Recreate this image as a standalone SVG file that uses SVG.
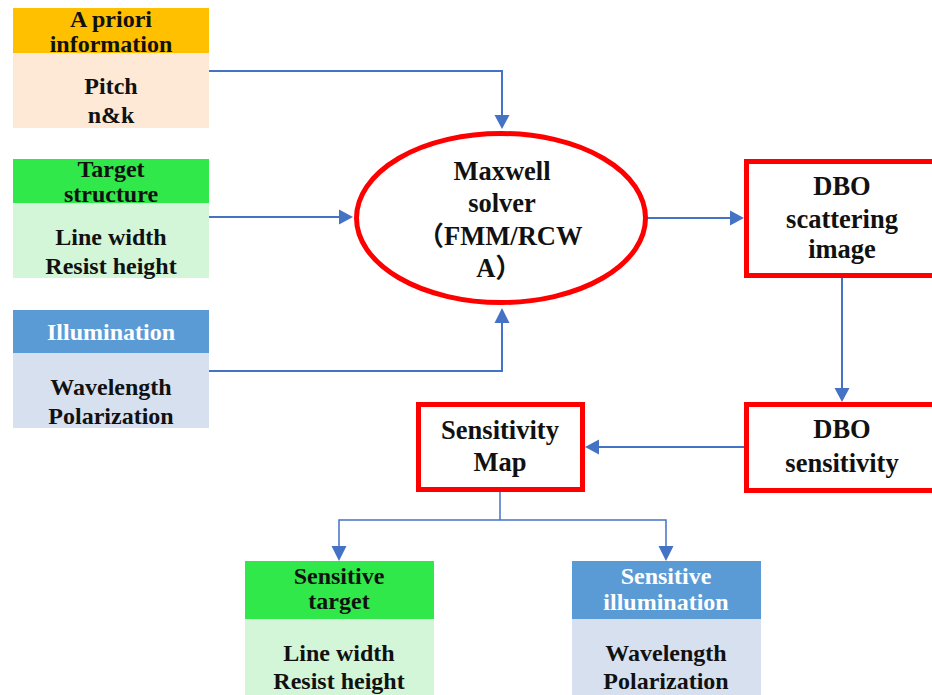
<svg xmlns="http://www.w3.org/2000/svg" width="932" height="695" viewBox="0 0 932 695">
  <defs>
    <style>
      text { font-family: "Liberation Serif", "Noto Sans CJK SC", serif; font-weight: bold; text-anchor: middle; fill: #111; }
      .t23 { font-size: 24px; }
      .t26 { font-size: 26.5px; }
      .white { fill: #ffffff; }
      .red { fill: #ffffff; stroke: #FF0000; stroke-width: 5; }
      .conn { fill: none; stroke: #4472C4; stroke-width: 2; }
      .conn-thin { fill: none; stroke: #4472C4; stroke-width: 1.5; }
      .head { fill: #4472C4; }
    </style>
  </defs>

  <rect width="932" height="695" fill="#ffffff"/>

  <!-- Connectors -->
  <g id="connectors">
    <path class="conn" d="M209,71 H502 V115" />
    <path class="head" d="M494.5,115 L509.5,115 L502,129 z"/>
    <path class="conn" d="M209,217 H339" />
    <path class="head" d="M339,209.5 L339,224.5 L353,217 z"/>
    <path class="conn" d="M209,371 H502 V323" />
    <path class="head" d="M494.5,323 L509.5,323 L502,308 z"/>
    <path class="conn" d="M647,218 H730" />
    <path class="head" d="M730,210.5 L730,225.5 L744,218 z"/>
    <path class="conn" d="M842,278 V388" />
    <path class="head" d="M834.5,388 L849.5,388 L842,402 z"/>
    <path class="conn" d="M744,447 H599" />
    <path class="head" d="M599,439.5 L599,454.5 L585,447 z"/>
    <path class="conn-thin" d="M500,492 V520" />
    <path class="conn-thin" d="M339,546 V520 H666 V546" />
    <path class="head" d="M331.5,546 L346.5,546 L339,561 z"/>
    <path class="head" d="M658.5,546 L673.5,546 L666,561 z"/>
  </g>

  <!-- A priori information -->
  <g id="node-apriori">
    <rect x="13" y="8" width="196" height="45" fill="#FFC000"/>
    <rect x="13" y="53" width="196" height="75" fill="#FDE9D5"/>
    <text class="t23" x="111" y="27">A priori</text>
    <text class="t23" x="111" y="52">information</text>
    <text class="t23" x="111" y="94">Pitch</text>
    <text class="t23" x="111" y="123">n&amp;k</text>
  </g>

  <!-- Target structure -->
  <g id="node-target">
    <rect x="13" y="159" width="196" height="44" fill="#31E84B"/>
    <rect x="13" y="203" width="196" height="75" fill="#D3F6D8"/>
    <text class="t23" x="111" y="177">Target</text>
    <text class="t23" x="111" y="202">structure</text>
    <text class="t23" x="111" y="245">Line width</text>
    <text class="t23" x="111" y="274">Resist height</text>
  </g>

  <!-- Illumination -->
  <g id="node-illumination">
    <rect x="13" y="310" width="196" height="43" fill="#5B9BD5"/>
    <rect x="13" y="353" width="196" height="75" fill="#D6E0EF"/>
    <text class="t23 white" x="111" y="340">Illumination</text>
    <text class="t23" x="111" y="395">Wavelength</text>
    <text class="t23" x="111" y="424">Polarization</text>
  </g>

  <!-- Maxwell solver -->
  <g id="node-solver">
    <ellipse class="red" cx="501" cy="218" rx="144.5" ry="84.5"/>
    <text class="t26" x="502" y="180">Maxwell</text>
    <text class="t26" x="502" y="212">solver</text>
    <text class="t26" x="500" y="245">（FMM/RCW</text>
    <text class="t26" x="499" y="277">A）</text>
  </g>

  <!-- DBO scattering image -->
  <g id="node-scattering">
    <rect class="red" x="746.5" y="161.5" width="200" height="114"/>
    <text class="t26" x="842" y="195">DBO</text>
    <text class="t26" x="842" y="228">scattering</text>
    <text class="t26" x="842" y="258">image</text>
  </g>

  <!-- DBO sensitivity -->
  <g id="node-dbo-sensitivity">
    <rect class="red" x="746.5" y="404.5" width="200" height="86"/>
    <text class="t26" x="842" y="438">DBO</text>
    <text class="t26" x="842" y="472">sensitivity</text>
  </g>

  <!-- Sensitivity Map -->
  <g id="node-map">
    <rect class="red" x="418.5" y="404.5" width="164" height="85"/>
    <text class="t26" x="500" y="439">Sensitivity</text>
    <text class="t26" x="500" y="471">Map</text>
  </g>

  <!-- Sensitive target -->
  <g id="node-sensitive-target">
    <rect x="245" y="561" width="189" height="58" fill="#31E84B"/>
    <rect x="245" y="619" width="189" height="76" fill="#D3F6D8"/>
    <text class="t23" x="339" y="584">Sensitive</text>
    <text class="t23" x="339" y="609">target</text>
    <text class="t23" x="339" y="661">Line width</text>
    <text class="t23" x="339" y="689">Resist height</text>
  </g>

  <!-- Sensitive illumination -->
  <g id="node-sensitive-illumination">
    <rect x="572" y="561" width="189" height="58" fill="#5B9BD5"/>
    <rect x="572" y="619" width="189" height="76" fill="#D6E0EF"/>
    <text class="t23 white" x="666" y="584">Sensitive</text>
    <text class="t23 white" x="666" y="610">illumination</text>
    <text class="t23" x="666" y="661">Wavelength</text>
    <text class="t23" x="666" y="689">Polarization</text>
  </g>
</svg>
